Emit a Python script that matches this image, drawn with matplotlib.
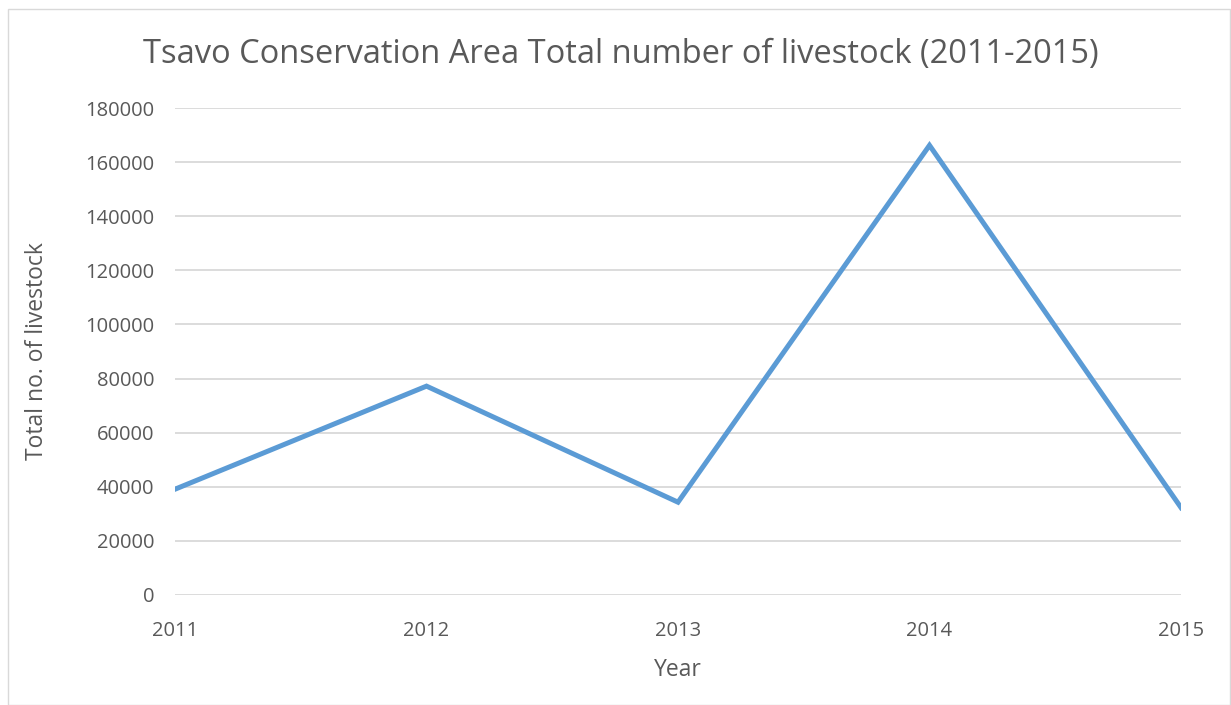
import matplotlib
matplotlib.use('Agg')

import numpy as np
from matplotlib import pyplot as plt
from matplotlib.patches import Rectangle

years = ['2011', '2012', '2013', '2014', '2015']
livestock = [39100, 77200, 34300, 166200, 32300]
yticks = [0, 20000, 40000, 60000, 80000, 100000, 120000, 140000, 160000, 180000]

plt.rcParams['font.family'] = ['Open Sans', 'DejaVu Sans']
grey = '#595959'

fig = plt.figure(figsize=(12.31, 7.05), dpi=100)
ax = fig.add_axes([175/1231, 1 - 595/705, (1181-175)/1231, (595-108)/705])

# outer chart border
fig.patches.append(Rectangle((8/1231, 0), 1 - 8/1231 - 1/1231, 1 - 9/705,
                             transform=fig.transFigure, fill=False,
                             edgecolor='#d9d9d9', linewidth=1))

x = np.arange(len(years))
ax.plot(x, livestock, color='#5B9BD5', linewidth=3.6, solid_joinstyle='miter', zorder=3)

ax.set_xlim(0, len(years) - 1)
ax.set_ylim(0, 180000)
ax.set_xticks(x)
ax.set_xticklabels(years)
ax.set_yticks(yticks)
ax.set_yticklabels([str(v) for v in yticks])
ax.grid(axis='y', color='#d9d9d9', linewidth=1.3)
ax.set_axisbelow(True)
for s in ax.spines.values():
    s.set_visible(False)
ax.tick_params(length=0, labelsize=14.5, colors=grey)
ax.tick_params(axis='y', pad=15)
ax.tick_params(axis='x', pad=19)

ax.set_xlabel('Year', fontsize=16.5, color=grey, labelpad=12)
ax.set_ylabel('Total no. of livestock', fontsize=16.5, color=grey, labelpad=26)
fig.text(621/1231, 1 - 55/705,
         'Tsavo Conservation Area Total number of livestock (2011-2015)',
         ha='center', va='center', fontsize=23.5, color=grey)

plt.savefig('out.png', dpi=100)
